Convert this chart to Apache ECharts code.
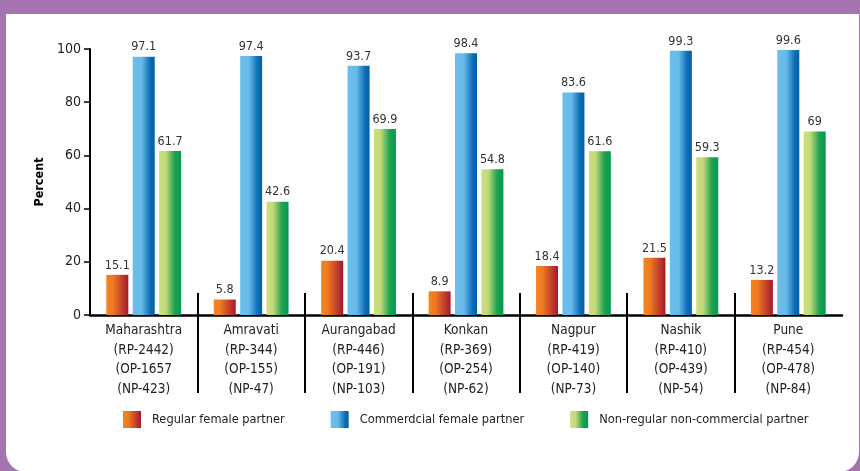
<!DOCTYPE html>
<html>
<head>
<meta charset="utf-8">
<script src="https://cdn.jsdelivr.net/npm/echarts@6/dist/echarts.min.js"></script>
<style>
html,body{margin:0;padding:0;background:#a574b0;}
#chart{width:860px;height:471px;}
</style>
</head>
<body>
<div id="chart"></div>
<script>
var regions = ['Maharashtra','Amravati','Aurangabad','Konkan','Nagpur','Nashik','Pune'];
var rpCounts = ['(RP-2442)','(RP-344)','(RP-446)','(RP-369)','(RP-419)','(RP-410)','(RP-454)'];
var opCounts = ['(OP-1657','(OP-155)','(OP-191)','(OP-254)','(OP-140)','(OP-439)','(OP-478)'];
var npCounts = ['(NP-423)','(NP-47)','(NP-103)','(NP-62)','(NP-73)','(NP-54)','(NP-84)'];
var seriesNames = ['Regular female partner','Commerdcial female partner','Non-regular non-commercial partner'];
var regular = [15.1, 5.8, 20.4, 8.9, 18.4, 21.5, 13.2];
var commercial = [97.1, 97.4, 93.7, 98.4, 83.6, 99.3, 99.6];
var nonRegular = [61.7, 42.6, 69.9, 54.8, 61.6, 59.3, 69];
var yTicks = [0, 20, 40, 60, 80, 100];
var separators = [1, 2, 3, 4, 5, 6];

var FONT = '"DejaVu Sans Condensed", "Liberation Sans Narrow", sans-serif';
var categories = regions.map(function (r, i) {
  return r + '\n' + rpCounts[i] + '\n' + opCounts[i] + '\n' + npCounts[i];
});

function grad(stops) {
  return new echarts.graphic.LinearGradient(0, 0, 1, 0, stops.map(function (s) {
    return { offset: s[0], color: s[1] };
  }));
}
var gOrange = grad([[0, '#f5851f'], [0.3, '#ee7a22'], [1, '#a3182f']]);
var gBlue = grad([[0, '#6bbeeb'], [0.4, '#68bbe9'], [0.8, '#0c6db6'], [1, '#0061a9']]);
var gGreen = grad([[0, '#cbdf7d'], [0.3, '#c4da78'], [0.7, '#22a252'], [1, '#009a4e']]);

var chart = echarts.init(document.getElementById('chart'));
var labelCfg = { show: true, position: 'top', distance: 3, color: '#333', fontSize: 12.5, fontFamily: FONT };

function sepAxis(inside, len) {
  return {
    type: 'value', gridIndex: 0, position: 'bottom', min: 0, max: 7,
    axisLine: { show: false },
    axisLabel: { show: false },
    splitLine: { show: false },
    axisTick: { show: true, inside: inside, length: len, customValues: separators,
      lineStyle: { color: '#000', width: 2 } }
  };
}

chart.setOption({
  animation: false,
  backgroundColor: '#a574b0',
  textStyle: { fontFamily: FONT },
  graphic: [{
    type: 'rect', silent: true, z: -10,
    shape: { x: 6, y: 14, width: 853, height: 458, r: [0, 0, 20, 20] },
    style: { fill: '#ffffff' }
  }],
  grid: { left: 90, right: 18, top: 49, bottom: 156, containLabel: false },
  legend: {
    left: 118, top: 406, width: 740,
    icon: 'rect',
    itemWidth: 18, itemHeight: 17, itemGap: 46,
    textStyle: { fontSize: 12.7, color: '#222', fontFamily: FONT, padding: [0, 0, 0, 6] },
    data: seriesNames
  },
  xAxis: [{
    type: 'category', data: categories,
    axisLine: { lineStyle: { color: '#000', width: 2.5 } },
    axisTick: { show: false },
    axisLabel: { color: '#222', fontSize: 13.5, lineHeight: 19.5, margin: 6, interval: 0, fontFamily: FONT }
  }, sepAxis(false, 78), sepAxis(true, 22)],
  yAxis: {
    type: 'value', min: 0, max: 100, interval: 20,
    name: 'Percent', nameLocation: 'middle', nameGap: 44, nameRotate: 90,
    nameTextStyle: { fontWeight: 'bold', fontSize: 12.5, color: '#000', fontFamily: FONT },
    axisLine: { show: true, lineStyle: { color: '#000', width: 2 } },
    axisTick: { show: true, length: 6, lineStyle: { color: '#000', width: 1.5 } },
    axisLabel: { color: '#222', fontSize: 14, margin: 9, fontFamily: FONT },
    splitLine: { show: false }
  },
  series: [
    { name: seriesNames[0], type: 'bar', data: regular, barWidth: 22, barGap: '20%', itemStyle: { color: gOrange }, label: labelCfg },
    { name: seriesNames[1], type: 'bar', data: commercial, barWidth: 22, barGap: '20%', itemStyle: { color: gBlue }, label: labelCfg },
    { name: seriesNames[2], type: 'bar', data: nonRegular, barWidth: 22, barGap: '20%', itemStyle: { color: gGreen }, label: labelCfg }
  ]
});
</script>
</body>
</html>
